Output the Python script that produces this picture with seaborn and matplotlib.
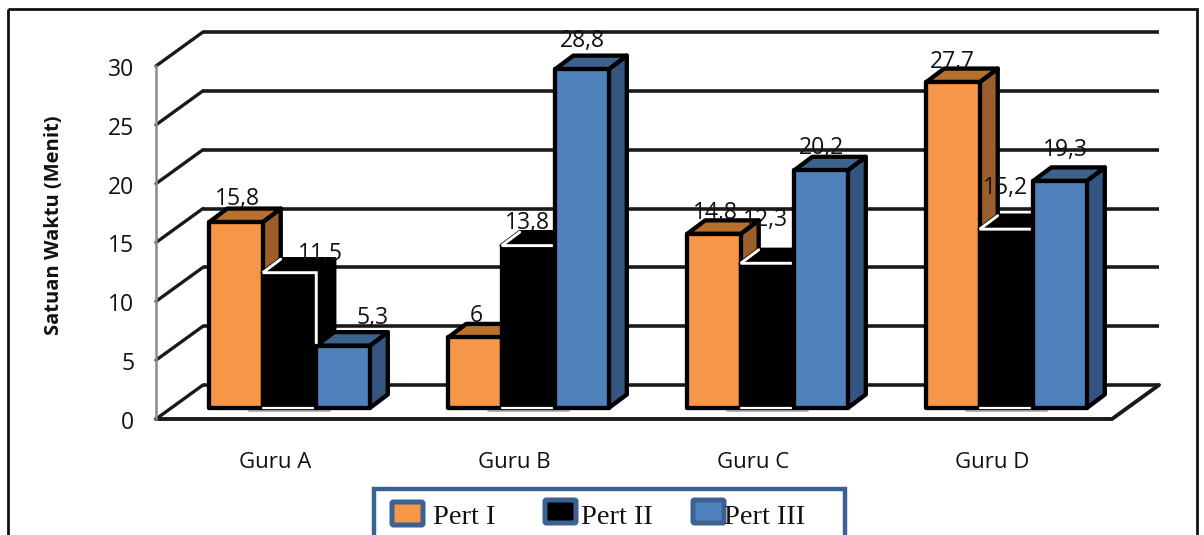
import matplotlib
matplotlib.use("Agg")
import matplotlib.pyplot as plt
import matplotlib.patches as mpatches
import matplotlib.transforms as mtransforms
import pandas as pd
import seaborn as sns

teachers = ["Guru A", "Guru B", "Guru C", "Guru D"]
sessions = ["Pert I", "Pert II", "Pert III"]
pert_1 = [15.8, 6, 14.8, 27.7]
pert_2 = [11.5, 13.8, 12.3, 15.2]
pert_3 = [5.3, 28.8, 20.2, 19.3]
tick_values = [0, 5, 10, 15, 20, 25, 30]
y_title = "Satuan Waktu (Menit)"

front_colors = ["#F79646", "#000000", "#4F81BD"]
top_colors = ["#B8702F", "#000000", "#3C6290"]
side_colors = ["#9C5F2B", "#000000", "#34557F"]
frame_blue = "#3B6292"

# Per-label pixel nudges from the top centre of each bar's front face
label_nudges = {
    "Pert I": [(1, 23), (1, 21), (1, 21), (-1, 20)],
    "Pert II": [(31, 19), (-1, 23), (-2, 43), (-1, 41)],
    "Pert III": [(30, 28), (0, 28), (0, 22), (5, 31)],
}

W, H = 1204, 535
sns.set_theme(style="white")
plt.rcParams["font.family"] = ["Open Sans", "DejaVu Sans"]

fig = plt.figure(figsize=(W / 100, H / 100), dpi=100, facecolor="white")
ax = fig.add_axes([156 / W, 1 - 419 / H, 956 / W, 353 / H])
ax.patch.set_visible(False)

table = pd.DataFrame({
    "guru": teachers * 3,
    "pert": [s for s in sessions for _ in teachers],
    "menit": pert_1 + pert_2 + pert_3,
})
sns.barplot(data=table, x="guru", y="menit", hue="pert", order=teachers,
            hue_order=sessions, palette=front_colors, saturation=1,
            width=0.672, dodge=True, legend=False, ax=ax)
ax.set_xlim(-0.5, 3.5)
ax.set_ylim(0, 30)

px_x = (3.5 + 0.5) / 956          # data units per pixel, horizontally
px_y = 30 / 353                   # data units per pixel, vertically
edge_lw = 3.1
BLACK = "#000000"

# Back wall and floor of the 3D box
wall_dx, wall_dy = 47 * px_x, 34 * px_y
for v in tick_values:
    ax.plot([-0.5 + wall_dx, 3.5 + wall_dx], [v + wall_dy, v + wall_dy],
            color="#1a1a1a", lw=2.6, clip_on=False, zorder=1, solid_capstyle="butt")
    ax.plot([-0.5, -0.5 + wall_dx], [v, v + wall_dy],
            color="#1a1a1a", lw=2.4, clip_on=False, zorder=1)
ax.plot([-0.5, 3.5, 3.5 + wall_dx], [0, 0, wall_dy],
        color="#1a1a1a", lw=2.8, clip_on=False, zorder=1)

# Bars stand a little inside the box floor
inset = mtransforms.ScaledTranslation(14 / 100, 11 / 100, fig.dpi_scale_trans)
bar_transform = ax.transData + inset
depth_x, depth_y = 18 * px_x, 13.5 * px_y

z = 3
for s, (container, session) in enumerate(zip(ax.containers, sessions)):
    for b, bar in enumerate(container):
        x0, x1 = bar.get_x(), bar.get_x() + bar.get_width()
        top = bar.get_height()
        is_black = session == "Pert II"
        top_face = mpatches.Polygon(
            [(x0, top), (x0 + depth_x, top + depth_y),
             (x1 + depth_x, top + depth_y), (x1, top)],
            closed=True, facecolor=top_colors[s], edgecolor=BLACK, lw=edge_lw,
            joinstyle="round", transform=bar_transform, clip_on=False, zorder=z + (4 * b))
        side_face = mpatches.Polygon(
            [(x1, 0), (x1 + depth_x, depth_y),
             (x1 + depth_x, top + depth_y), (x1, top)],
            closed=True, facecolor=side_colors[s], edgecolor=BLACK, lw=edge_lw,
            joinstyle="round", transform=bar_transform, clip_on=False, zorder=z + (4 * b))
        ax.add_patch(side_face)
        ax.add_patch(top_face)
        bar.set_transform(bar_transform)
        bar.set_clip_on(False)
        bar.set_edgecolor(BLACK)
        bar.set_linewidth(edge_lw)
        bar.set_joinstyle("round")
        bar.set_zorder(z + (4 * b) + 1)
        if is_black:
            # The dark series is picked out by a white rim along its upper edges
            rim_z = z + (4 * b) + 1.5
            ax.plot([x0 + depth_x, x0, x1, x1], [top + depth_y, top, top, 0],
                    color="white", lw=2.1, transform=bar_transform, clip_on=False,
                    zorder=rim_z, solid_joinstyle="miter")
            ax.plot([x0, x1], [0, 0], color="white", lw=1.6,
                    transform=bar_transform, clip_on=False, zorder=rim_z)
            # Soft shadow beneath the dark bar
            ax.plot([x0 - 14 * px_x, x1 + 14 * px_x], [-2.6 * px_y, -2.6 * px_y],
                    color="#b5b5b5", lw=1.4, transform=bar_transform, clip_on=False,
                    zorder=2, solid_capstyle="round")
        nudge = label_nudges[session][b]
        text = f"{top:g}".replace(".", ",")
        ax.annotate(text, xy=((x0 + x1) / 2, top), xycoords=bar_transform,
                    xytext=nudge, textcoords="offset pixels", ha="center",
                    va="center", fontsize=16.5, color="#111111", zorder=60,
                    annotation_clip=False)
    z += 1

# Axes furniture
for name in ("top", "right", "bottom"):
    ax.spines[name].set_visible(False)
ax.spines["left"].set_color("#8c8c8c")
ax.spines["left"].set_linewidth(1.8)
ax.set_yticks(tick_values)
ax.set_xticks(range(len(teachers)))
ax.set_xticklabels(teachers)
ax.tick_params(axis="y", length=0, pad=15.5, labelsize=16.5, labelcolor="#111111")
ax.tick_params(axis="x", length=0, pad=24, labelsize=16, labelcolor="#111111")
for tick_label in ax.get_yticklabels():
    tick_label.set_y(tick_label.get_position()[1])
    tick_label.set_transform(tick_label.get_transform() + mtransforms.ScaledTranslation(
        0, -1 / 100, fig.dpi_scale_trans))
ax.set_xlabel("")
ax.set_ylabel(y_title, fontsize=14.5, fontweight="bold", color="#111111")
ax.yaxis.set_label_coords((64 - 156) / 956, (419 - 225) / 353)

# Outer chart frame and legend box run past the lower edge of the figure
pixels = mtransforms.Affine2D().scale(1 / W, -1 / H).translate(0, 1) + fig.transFigure
fig.add_artist(mpatches.Rectangle((8, 9), 1189, 560, transform=pixels, fill=False,
                                  edgecolor="#111111", lw=2.0, clip_on=False))
fig.add_artist(mpatches.Rectangle((374, 489), 471, 80, transform=pixels, facecolor="white",
                                  edgecolor=frame_blue, lw=3.2, clip_on=False, zorder=5))
swatches = [(392, 502), (545, 500), (693, 500)]
text_x = [433, 581, 724]
for name, color, (sx, sy), tx in zip(sessions, front_colors, swatches, text_x):
    fig.add_artist(mpatches.FancyBboxPatch(
        (sx, sy), 31, 23, boxstyle="round,pad=0,rounding_size=1.5", transform=pixels,
        facecolor=color, edgecolor=frame_blue, lw=3.6, zorder=6))
    fig.text(tx, 517, name, transform=pixels, family=["Liberation Serif"],
             fontsize=20.5, color="#111111", va="center", ha="left", zorder=7)

fig.savefig("out.png", dpi=100)
